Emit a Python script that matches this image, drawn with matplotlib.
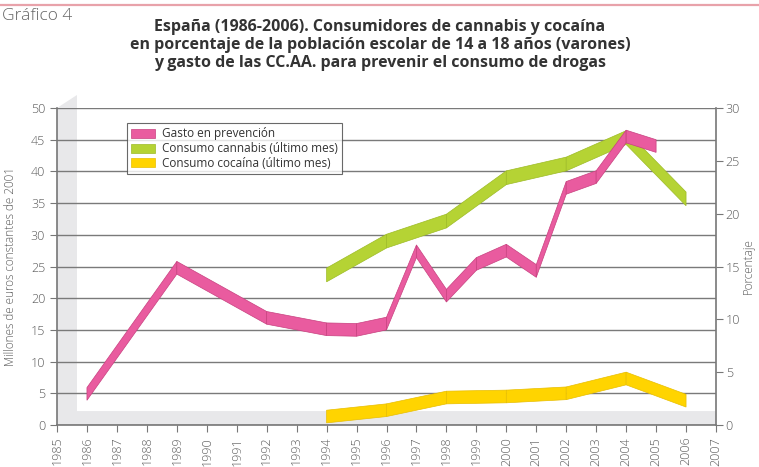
import matplotlib.pyplot as plt
from matplotlib.patches import Polygon

plt.rcParams['font.family'] = ['Open Sans', 'DejaVu Sans']

# Gasto en prevención (millones de euros de 2001, eje izquierdo)
gasto_years = [1986, 1989, 1992, 1994, 1995, 1996, 1997, 1998, 1999, 2000, 2001, 2002, 2003, 2004, 2005]
gasto_vals = [4.9, 24.8, 16.9, 15.1, 15.0, 16.0, 27.4, 20.4, 25.4, 27.5, 24.3, 37.4, 39.1, 45.5, 44.0]

# Consumo (porcentaje, eje derecho)
cons_years = [1994, 1996, 1998, 2000, 2002, 2004, 2006]
cannabis_vals = [14.2, 17.4, 19.3, 23.4, 24.7, 27.2, 21.4]
cocaina_vals = [0.8, 1.4, 2.6, 2.7, 3.0, 4.4, 2.3]

years_ticks = list(range(1985, 2008))

pink = '#E95B9F'
green = '#B5D334'
yellow = '#FFD400'
txt = '#5a5a5a'

fig = plt.figure(figsize=(7.59, 4.67), dpi=100)
ax = fig.add_axes([57 / 759, 42 / 467, 659 / 759, 317 / 467])
ax2 = ax.twinx()

# grey 3D wall and floor
wall = Polygon([(0, 0), (0, 1), (0.0303, 1.041), (0.0303, 0.044), (1, 0.044), (1, 0)],
               closed=True, transform=ax.transAxes, facecolor='#E8E8EA', edgecolor='none',
               clip_on=False, zorder=0.1)
ax.add_patch(wall)

ax.set_xlim(1985, 2007)
ax.set_ylim(0, 50)
ax2.set_ylim(0, 30)
ax.set_yticks(range(0, 51, 5))
ax2.set_yticks(range(0, 31, 5))
ax.set_xticks(years_ticks)
ax.set_xticklabels([str(y) for y in years_ticks], rotation=90)
ax.set_axisbelow(True)
ax.yaxis.grid(True, color='#7a7a7a', linewidth=1.0)


def ribbon(years, vals, half, color, edge, transform, z):
    for i in range(len(years) - 1):
        xs = [years[i], years[i + 1], years[i + 1], years[i]]
        ys = [vals[i] - half, vals[i + 1] - half, vals[i + 1] + half, vals[i] + half]
        ax.fill(xs, ys, facecolor=color, edgecolor=edge, linewidth=0.5,
                transform=transform, zorder=z)


ribbon(cons_years, cocaina_vals, 0.6, yellow, '#E8BE00', ax2.transData, 3)
ribbon(cons_years, cannabis_vals, 0.65, green, '#9DBB25', ax2.transData, 3)
ribbon(gasto_years, gasto_vals, 1.0, pink, '#C8407F', ax.transData, 4)

for a in (ax, ax2):
    for s in a.spines.values():
        s.set_visible(False)
ax.spines['left'].set_visible(True)
ax.spines['bottom'].set_visible(True)
ax2.spines['right'].set_visible(True)
for s in (ax.spines['left'], ax.spines['bottom'], ax2.spines['right']):
    s.set_color('#777777')
    s.set_linewidth(1.2)

ax.tick_params(axis='both', colors='#777777', labelcolor=txt, labelsize=9, length=5)
ax2.tick_params(axis='y', colors='#777777', labelcolor=txt, labelsize=9, length=5, pad=2)
for lab in ax.get_xticklabels() + ax.get_yticklabels() + ax2.get_yticklabels():
    lab.set_fontweight('light')

ax.set_ylabel('Millones de euros constantes de 2001', color=txt, fontsize=8.5, fontweight='light')
ax2.set_ylabel('Porcentaje', color=txt, fontsize=8.5, fontweight='light')
ax.yaxis.set_label_coords(-0.060, 0.5)
ax2.yaxis.set_label_coords(1.039, 0.5)

handles = [plt.Rectangle((0, 0), 1, 1, facecolor=pink, edgecolor='#C8407F', linewidth=0.5),
           plt.Rectangle((0, 0), 1, 1, facecolor=green, edgecolor='#9DBB25', linewidth=0.5),
           plt.Rectangle((0, 0), 1, 1, facecolor=yellow, edgecolor='#E8BE00', linewidth=0.5)]
labels = ['Gasto en prevención', 'Consumo cannabis (último mes)', 'Consumo cocaína (último mes)']
leg = ax2.legend(handles, labels, loc='upper left', bbox_to_anchor=(0.106, 0.952),
                 fontsize=8.5, frameon=True, fancybox=False, handlelength=2.0, handleheight=0.8,
                 handletextpad=0.6, borderpad=0.35, labelspacing=0.15, borderaxespad=0)
leg.get_frame().set_edgecolor('#444444')
leg.get_frame().set_linewidth(0.8)
for t in leg.get_texts():
    t.set_color('#333333')
leg.set_zorder(10)

# header
fig.add_artist(plt.Line2D([0, 1], [1 - 5 / 467, 1 - 5 / 467], color='#E8A2AA', linewidth=1.6))
fig.text(2 / 759, 1 - 16 / 467, 'Gráfico 4', fontsize=12.5, color='#666666', va='center',
         ha='left', fontweight='light')
title = ('España (1986-2006). Consumidores de cannabis y cocaína\n'
         'en porcentaje de la población escolar de 14 a 18 años (varones)\n'
         'y gasto de las CC.AA. para prevenir el consumo de drogas')
fig.text(380 / 759, 1 - 45 / 467, title, fontsize=11.5, fontweight='bold', color='#333333',
         ha='center', va='center', linespacing=1.15)

fig.savefig('out.png', dpi=100)
